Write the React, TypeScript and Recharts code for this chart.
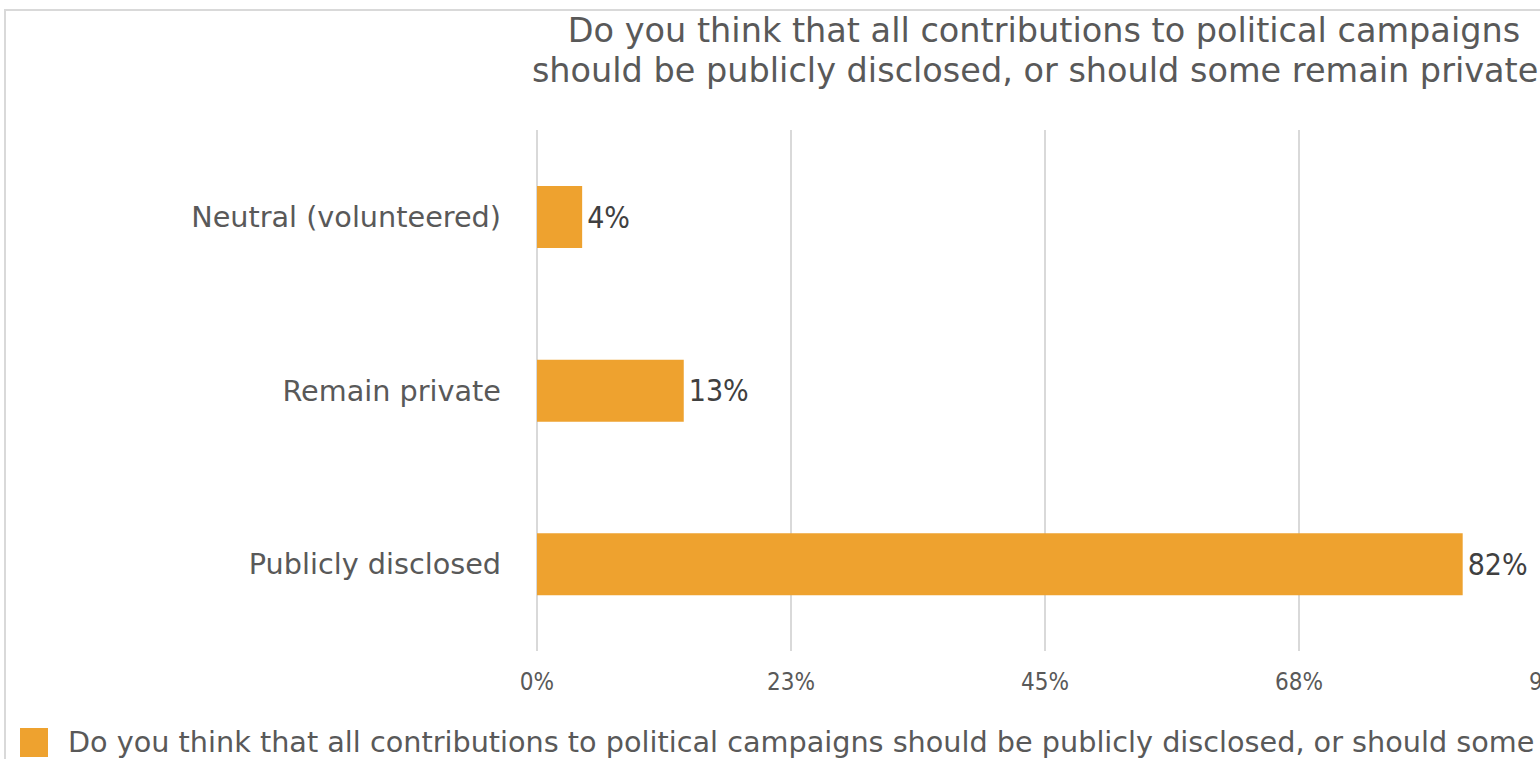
import React from "react";
import { BarChart, Bar, XAxis, YAxis, CartesianGrid, LabelList, Legend } from "recharts";

const categories = ["Neutral (volunteered)", "Remain private", "Publicly disclosed"];
const values = [4, 13, 82];
const xTicks = [0, 22.5, 45, 67.5, 90];
const titleLines = [
  "Do you think that all contributions to political campaigns",
  "should be publicly disclosed, or should some remain private?",
];
const seriesName =
  "Do you think that all contributions to political campaigns should be publicly disclosed, or should some remain private?";

const data = categories.map((c, i) => ({ name: c, value: values[i] }));

const FONT = "'DejaVu Sans', sans-serif";
const FONT_C = "'DejaVu Sans Condensed', 'DejaVu Sans', sans-serif";

const LegendContent = () => (
  <div style={{ display: "flex", alignItems: "center", whiteSpace: "nowrap", fontFamily: FONT, fontSize: 28.7, color: "#595959", lineHeight: "30px" }}>
    <span style={{ display: "inline-block", width: 28, height: 29, background: "#EEA22F", marginRight: 20 }} />
    <span>{seriesName}</span>
  </div>
);

export default function App() {
  return (
    <div style={{ position: "fixed", left: 0, top: 0, width: 1540, height: 759, overflow: "hidden", background: "#fff" }}>
      <div style={{ position: "absolute", left: 4, top: 9, width: 1700, height: 900, border: "2px solid #d9d9d9", boxSizing: "border-box" }} />
      <div style={{ position: "absolute", left: 1044 - 800, top: 11, width: 1600, textAlign: "center", fontFamily: FONT, fontSize: 33.5, lineHeight: "40px", color: "#595959", whiteSpace: "nowrap" }}>
        {titleLines.map((t, i) => (
          <div key={i}>{t}</div>
        ))}
      </div>
      <div style={{ position: "absolute", left: 0, top: 0 }}>
        <BarChart
          width={1580}
          height={759}
          data={data}
          layout="vertical"
          margin={{ top: 130, right: 27, bottom: 38, left: 0 }}
          barSize={62}
        >
          <CartesianGrid horizontal={false} vertical={true} stroke="#d9d9d9" strokeWidth={2} />
          <XAxis
            type="number"
            domain={[0, 90]}
            ticks={xTicks}
            tickFormatter={(v: number) => `${Math.round(v)}%`}
            axisLine={false}
            tickLine={false}
            tickSize={0}
            tickMargin={22}
            height={40}
            tick={{ fill: "#595959", fontSize: 24, fontFamily: FONT_C }}
          />
          <YAxis
            type="category"
            dataKey="name"
            width={537}
            axisLine={false}
            tickLine={false}
            tickSize={0}
            tickMargin={36}
            tick={{ fill: "#595959", fontSize: 28.7, fontFamily: FONT }}
          />
          <Legend
            verticalAlign="bottom"
            align="left"
            content={<LegendContent />}
            wrapperStyle={{ left: 20, top: 727, width: 2000 }}
          />
          <Bar dataKey="value" name={seriesName} fill="#EEA22F" isAnimationActive={false}>
            <LabelList
              dataKey="value"
              position="right"
              offset={5}
              formatter={(v: number) => `${v}%`}
              style={{ fill: "#404040", fontSize: 30, fontFamily: FONT_C }}
            />
          </Bar>
        </BarChart>
      </div>
    </div>
  );
}
